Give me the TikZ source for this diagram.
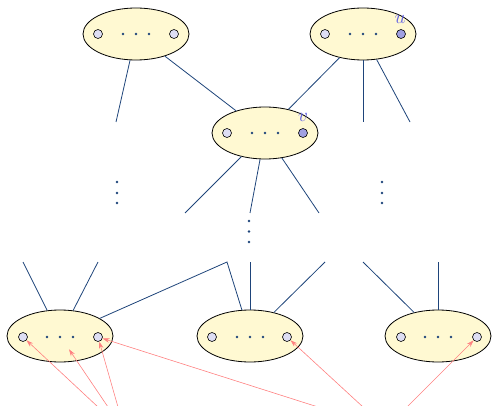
\documentclass[tikz,border=0pt]{standalone}
\usetikzlibrary{shapes.geometric,arrows.meta,calc}
\definecolor{edgeblue}{RGB}{30,68,122}
\definecolor{bagfill}{RGB}{255,249,210}
\definecolor{ptlight}{RGB}{222,222,244}
\definecolor{ptdark}{RGB}{160,160,226}
\definecolor{arrowred}{RGB}{255,128,128}
\definecolor{labelblue}{RGB}{100,100,228}
\tikzset{
  bag/.style={ellipse,draw=black,fill=bagfill,line width=0.8pt,
              minimum width=106pt,minimum height=52pt,inner sep=0pt},
  pt/.style={circle,draw=black,fill=ptlight,line width=0.6pt,
             minimum size=9pt,inner sep=0pt},
  ptsel/.style={pt,fill=ptdark},
  tree/.style={draw=edgeblue,line width=0.8pt},
  ptr/.style={draw=arrowred,line width=0.6pt,-{Stealth[length=7pt,width=4.5pt]}},
  lab/.style={text=labelblue,inner sep=0pt,scale=1.9}
}
% three dots in a row, centred on a bag
\newcommand\hdots[1]{%
  \foreach \dx in {-13,0,13}{\fill[edgeblue] ($(#1)+(\dx,0)$) circle (1.3pt);}}
\begin{document}
\begin{tikzpicture}[x=1pt,y=-1pt]
\useasboundingbox (0,0) rectangle (492,406);

% bags
\node[bag] (tl) at (136,34) {};
\node[bag] (tr) at (363,34) {};
\node[bag] (md) at (265,133) {};
\node[bag] (bl) at (60,336) {};
\node[bag] (bm) at (250,336) {};
\node[bag] (br) at (438,336) {};

% points inside the bags
\node[pt] (tlL) at (98,34) {};   \node[pt] (tlR) at (174,34) {};
\node[pt] (trL) at (325,34) {};  \node[ptsel] (trR) at (401,34) {};
\node[pt] (mdL) at (227,133) {}; \node[ptsel] (mdR) at (303,133) {};
\node[pt] (blL) at (23,337) {};  \node[pt] (blR) at (98,337) {};
\node[pt] (bmL) at (212,337) {}; \node[pt] (bmR) at (287,337) {};
\node[pt] (brL) at (401,337) {}; \node[pt] (brR) at (477,337) {};

\hdots{tl}\hdots{tr}\hdots{md}
\foreach \b in {bl,bm,br}{\foreach \dx in {-13,0,13}{\fill[edgeblue] ($(\b)+(\dx,1)$) circle (1.3pt);}}

% labels
\node[lab] (ulab) at (400,19) {$u$};
\node[lab] (vlab) at (303,117) {$v$};

% free ends of tree edges
\coordinate (tlA) at (116,122);
\coordinate (trA) at (363,122);
\coordinate (trB) at (410,122);
\coordinate (mdA) at (185,213);
\coordinate (mdB) at (250,213);
\coordinate (mdC) at (319,213);
\coordinate (blA) at (23,262);
\coordinate (blB) at (98,262);
\coordinate (kink) at (227,262);
\coordinate (bmA) at (250,262);
\coordinate (bmB) at (325,262);
\coordinate (brA) at (363,262);
\coordinate (brB) at (438,262);

% tree edges
\draw[tree] (tl) -- (tlA);
\draw[tree] (tl) -- (md);
\draw[tree] (tr) -- (md);
\draw[tree] (tr) -- (trA);
\draw[tree] (tr) -- (trB);
\draw[tree] (md) -- (mdA);
\draw[tree] (md) -- (mdB);
\draw[tree] (md) -- (mdC);
\draw[tree] (bl) -- (blA);
\draw[tree] (bl) -- (blB);
\draw[tree] (bl) -- (kink) -- (bm);
\draw[tree] (bm) -- (bmA);
\draw[tree] (bm) -- (bmB);
\draw[tree] (br) -- (brA);
\draw[tree] (br) -- (brB);

% vertical dots
\foreach \y in {182,193,203}{\fill[edgeblue] (117,\y) circle (1.3pt); \fill[edgeblue] (382,\y) circle (1.3pt);}
\foreach \y in {221,231.5,242}{\fill[edgeblue] (249,\y) circle (1.3pt);}

% pointer sources
\coordinate (r1) at (98,407);
\coordinate (r2) at (108,407);
\coordinate (r3) at (118,407);
\coordinate (r4) at (318,407);
\coordinate (r5) at (363,407);
\coordinate (r6) at (407,407);

% pointers
\draw[ptr] (r1) -- (blL);
\draw[ptr,shorten >=16pt] (r2) -- (bl.center);
\draw[ptr] (r3) -- (blR);
\draw[ptr] (r4) -- (blR);
\draw[ptr] (r5) -- (bmR);
\draw[ptr] (r6) -- (brR);
\end{tikzpicture}
\end{document}
